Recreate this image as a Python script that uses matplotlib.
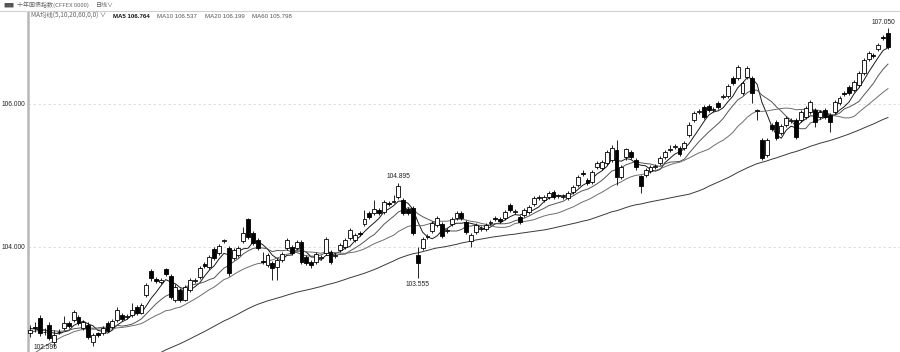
import matplotlib
matplotlib.use('Agg')
import matplotlib.pyplot as plt
import numpy as np
from matplotlib.patches import Rectangle

# ---------------- data ----------------
opens = [102.791, 102.875, 103.000, 102.805, 102.903, 102.665, 102.800, 102.861, 102.931, 102.972,
         103.014, 102.861, 102.903, 102.665, 102.791, 102.791, 102.931, 102.875, 102.972, 103.042,
         103.014, 103.042, 103.154, 103.070, 103.322, 103.658, 103.546, 103.504, 103.686, 103.588,
         103.252, 103.392, 103.252, 103.392, 103.518, 103.574, 103.756, 103.714, 103.966, 103.910,
         104.077, 103.980, 103.840, 103.882, 104.077, 104.385, 104.189, 104.091, 103.798, 103.742,
         103.770, 103.714, 103.812, 103.980, 103.994, 103.980, 104.063, 103.854, 103.784, 103.784,
         103.840, 103.910, 103.924, 103.868, 103.951, 103.994, 104.119, 104.091, 104.189, 104.315,
         104.469, 104.469, 104.511, 104.483, 104.609, 104.623, 104.693, 104.651, 104.525, 104.539,
         103.882, 103.980, 104.133, 104.217, 104.301, 104.315, 104.217, 104.315, 104.399, 104.469,
         104.343, 104.077, 104.203, 104.245, 104.245, 104.329, 104.399, 104.385, 104.399, 104.581,
         104.483, 104.413, 104.441, 104.483, 104.595, 104.679, 104.651, 104.693, 104.763, 104.707,
         104.693, 104.679, 104.763, 104.861, 105.028, 104.931, 104.903, 105.112, 105.098, 105.168,
         105.210, 105.350, 104.973, 105.252, 105.322, 105.210, 104.987, 105.001, 105.056, 105.112,
         105.168, 105.252, 105.350, 105.392, 105.378, 105.378, 105.560, 105.770, 105.882, 105.952,
         105.966, 105.910, 106.008, 106.091, 106.105, 106.357, 106.357, 106.147, 106.371, 106.357,
         105.896, 105.490, 105.280, 105.700, 105.742, 105.588, 105.700, 105.756, 105.770, 105.770,
         105.812, 105.882, 105.910, 105.812, 105.910, 105.840, 105.882, 106.008, 106.147, 106.231,
         106.189, 106.259, 106.427, 106.623, 106.679, 106.763, 106.930, 106.986]

closes = [102.833, 102.861, 102.791, 102.810, 102.721, 102.763, 102.810, 102.931, 102.889, 103.084,
          102.931, 102.945, 102.735, 102.763, 102.763, 102.861, 102.819, 102.959, 103.112, 102.986,
          103.028, 103.112, 103.070, 103.182, 103.462, 103.560, 103.518, 103.532, 103.616, 103.294,
          103.434, 103.252, 103.434, 103.532, 103.532, 103.700, 103.728, 103.854, 103.840, 104.008,
          104.091, 103.630, 103.951, 103.980, 104.189, 104.133, 104.049, 103.980, 103.784, 103.882,
          103.700, 103.812, 103.896, 104.091, 103.910, 104.063, 103.784, 103.770, 103.742, 103.896,
          103.854, 104.105, 103.784, 103.882, 104.021, 104.091, 104.231, 104.161, 104.175, 104.385,
          104.413, 104.525, 104.469, 104.623, 104.595, 104.637, 104.847, 104.469, 104.469, 104.189,
          103.770, 104.105, 104.147, 104.329, 104.399, 104.147, 104.231, 104.385, 104.469, 104.399,
          104.203, 104.161, 104.301, 104.259, 104.301, 104.343, 104.385, 104.357, 104.483, 104.511,
          104.497, 104.343, 104.511, 104.553, 104.679, 104.693, 104.693, 104.749, 104.693, 104.714,
          104.707, 104.749, 104.833, 104.973, 105.014, 104.889, 105.042, 105.168, 105.182, 105.322,
          105.378, 104.973, 105.112, 105.364, 105.252, 105.112, 104.847, 105.070, 105.112, 105.126,
          105.238, 105.322, 105.364, 105.406, 105.294, 105.448, 105.700, 105.868, 105.896, 105.812,
          105.910, 105.924, 105.952, 106.105, 106.245, 106.287, 106.511, 106.287, 106.497, 106.147,
          105.910, 105.238, 105.490, 105.644, 105.518, 105.686, 105.798, 105.770, 105.532, 105.882,
          105.938, 106.022, 105.742, 105.882, 105.812, 105.742, 106.022, 106.077, 106.133, 106.147,
          106.301, 106.427, 106.609, 106.707, 106.665, 106.819, 106.916, 106.791]

highs = [102.903, 102.945, 103.042, 102.861, 102.945, 102.833, 102.847, 103.028, 102.959, 103.112,
         103.042, 102.972, 102.945, 102.791, 102.805, 102.889, 102.959, 102.986, 103.154, 103.070,
         103.056, 103.210, 103.182, 103.210, 103.490, 103.686, 103.574, 103.560, 103.700, 103.616,
         103.476, 103.420, 103.462, 103.560, 103.560, 103.728, 103.784, 103.882, 103.994, 104.036,
         104.105, 104.008, 103.980, 104.008, 104.273, 104.399, 104.217, 104.119, 103.924, 103.910,
         103.798, 103.840, 103.924, 104.119, 104.021, 104.091, 104.091, 103.882, 103.812, 103.924,
         103.882, 104.133, 103.951, 103.910, 104.049, 104.119, 104.259, 104.189, 104.217, 104.511,
         104.497, 104.651, 104.539, 104.651, 104.637, 104.721, 104.895, 104.679, 104.553, 104.567,
         103.994, 104.133, 104.175, 104.357, 104.427, 104.343, 104.259, 104.413, 104.497, 104.497,
         104.371, 104.189, 104.329, 104.287, 104.329, 104.371, 104.427, 104.413, 104.511, 104.609,
         104.525, 104.441, 104.539, 104.581, 104.707, 104.721, 104.721, 104.777, 104.791, 104.735,
         104.735, 104.777, 104.861, 105.001, 105.070, 104.959, 105.070, 105.196, 105.210, 105.350,
         105.420, 105.490, 105.140, 105.378, 105.350, 105.238, 105.001, 105.098, 105.140, 105.154,
         105.266, 105.350, 105.420, 105.434, 105.406, 105.476, 105.742, 105.896, 105.924, 105.980,
         105.994, 105.952, 106.036, 106.133, 106.273, 106.385, 106.539, 106.315, 106.525, 106.385,
         105.924, 105.518, 105.518, 105.728, 105.770, 105.714, 105.826, 105.798, 105.798, 105.910,
         105.966, 106.049, 105.938, 105.910, 105.938, 105.868, 106.049, 106.105, 106.175, 106.259,
         106.329, 106.455, 106.637, 106.735, 106.707, 106.847, 106.958, 107.050]

lows = [102.735, 102.805, 102.749, 102.763, 102.693, 102.595, 102.777, 102.833, 102.861, 102.945,
        102.903, 102.833, 102.707, 102.609, 102.735, 102.763, 102.805, 102.847, 102.945, 102.959,
        102.986, 103.014, 103.042, 103.056, 103.294, 103.518, 103.490, 103.476, 103.588, 103.266,
        103.224, 103.224, 103.238, 103.364, 103.490, 103.546, 103.700, 103.686, 103.812, 103.882,
        104.049, 103.588, 103.812, 103.854, 104.049, 104.105, 104.021, 103.951, 103.756, 103.714,
        103.532, 103.532, 103.784, 103.951, 103.882, 103.952, 103.756, 103.742, 103.700, 103.756,
        103.812, 103.882, 103.756, 103.840, 103.924, 103.966, 104.091, 104.063, 104.147, 104.287,
        104.385, 104.441, 104.441, 104.455, 104.567, 104.609, 104.665, 104.441, 104.441, 104.161,
        103.555, 103.952, 104.105, 104.189, 104.273, 104.119, 104.189, 104.287, 104.371, 104.371,
        104.175, 103.994, 104.175, 104.217, 104.217, 104.301, 104.357, 104.329, 104.371, 104.483,
        104.455, 104.315, 104.413, 104.455, 104.567, 104.651, 104.623, 104.665, 104.665, 104.679,
        104.665, 104.651, 104.735, 104.833, 104.987, 104.861, 104.875, 105.084, 105.070, 105.140,
        105.182, 104.861, 104.945, 105.210, 105.224, 105.070, 104.749, 104.973, 105.028, 105.084,
        105.140, 105.224, 105.322, 105.364, 105.266, 105.350, 105.532, 105.742, 105.854, 105.784,
        105.882, 105.882, 105.924, 106.063, 106.077, 106.259, 106.329, 106.119, 106.343, 106.007,
        105.770, 105.210, 105.252, 105.616, 105.490, 105.560, 105.672, 105.728, 105.504, 105.742,
        105.784, 105.854, 105.672, 105.784, 105.784, 105.602, 105.854, 105.980, 106.105, 106.119,
        106.161, 106.231, 106.399, 106.595, 106.637, 106.735, 106.888, 106.763]

# closes before the visible window (needed for the moving averages)
pre_closes = [101.30, 101.25, 101.35, 101.42, 101.38, 101.30, 101.22, 101.28, 101.40, 101.48,
              101.45, 101.52, 101.47, 101.40, 101.35, 101.42, 101.50, 101.58, 101.55, 101.48,
              101.52, 101.60, 101.66, 101.58, 101.62,
              101.55, 101.50, 101.45, 101.52, 101.60, 101.58, 101.50, 101.44, 101.52, 101.63,
              101.70, 101.66, 101.72, 101.80, 101.75, 101.82, 101.90, 101.86, 101.95, 102.02, 102.10,
              102.25, 102.38, 102.46, 102.55, 102.62, 102.70, 102.78, 102.74, 102.82, 102.90,
              102.86, 102.80, 102.88]

ma_periods = [5, 10, 20, 60]
ma_colors = ['#1a1a1a', '#555555', '#6e6e6e', '#3a3a3a']
ytick_values = [104.0, 106.0]
ytick_labels = ['104.000', '106.000']
header_title = '十年国债指数(CFFEX 0000)'
header_period = '日线'
ma_param_text = 'MA均线(5,10,20,60,0,0)'
legend_values = ['106.764', '106.537', '106.199', '105.798']

# ---------------- figure ----------------
W, H = 900, 352
fig = plt.figure(figsize=(W / 100, H / 100), dpi=100)
fig.patch.set_facecolor('white')

def fx(px):
    return px / W

def fy(py):
    return 1 - py / H

ax = fig.add_axes([fx(28), 0, fx(900) - fx(28), fy(12)])
n = len(closes)
xs = np.arange(1, n + 1)
ax.set_xlim(0.59, n + 2.48)
ax.set_ylim(102.525, 107.280)

# grid lines
for v in ytick_values:
    ax.axhline(v, color='#d8d8d8', lw=0.6, ls=(0, (3, 3)), zorder=0)

# moving averages
allc = np.array(pre_closes + closes)
npre = len(pre_closes)
for p, col in zip(ma_periods, ma_colors):
    ma = np.convolve(allc, np.ones(p) / p, mode='valid')
    vals = ma[npre - p + 1:]
    ax.plot(xs, vals, color=col, lw=0.7, zorder=2)

# candles
bw = 0.8
for x, o, c, h, l in zip(xs, opens, closes, highs, lows):
    up = c >= o
    ax.plot([x, x], [l, h], color='black', lw=0.6, zorder=3, solid_capstyle='butt')
    bottom = min(o, c)
    height = max(abs(c - o), 0.006)
    ax.add_patch(Rectangle((x - bw / 2, bottom), bw, height,
                           facecolor='white' if up else 'black',
                           edgecolor='black', lw=0.6, zorder=4))

lab_font = dict(fontsize=4.8, color='#222222', family='Liberation Sans')
# extreme labels
imax = int(np.argmax(highs))
ax.text(xs[imax] + 1.6, highs[imax] + 0.04, f'{highs[imax]:.3f}', ha='right', va='bottom', **lab_font)
loc_hi = 76
ax.text(xs[loc_hi], highs[loc_hi] + 0.04, f'{highs[loc_hi]:.3f}', ha='center', va='bottom', **lab_font)
loc_lo = 80
ax.text(xs[loc_lo], lows[loc_lo] - 0.04, f'{lows[loc_lo]:.3f}', ha='center', va='top', **lab_font)
imin = int(np.argmin(lows))
ax.text(xs[imin] - 1.8, 102.545, f'{lows[imin]:.3f}', ha='center', va='bottom', **lab_font)

# axes styling
for s in ['top', 'right', 'bottom']:
    ax.spines[s].set_visible(False)
ax.spines['left'].set_color('#b8b8b8')
ax.spines['left'].set_linewidth(1.8)
ax.set_yticks(ytick_values)
ax.set_yticklabels(ytick_labels, fontsize=4.8, color='#222222', family='Liberation Sans')
ax.tick_params(axis='y', length=0, pad=2)
ax.set_xticks([])

# header
cjk = ['Noto Sans CJK SC', 'DejaVu Sans']
fig.add_artist(plt.Line2D([0, 1], [fy(10.5), fy(10.5)], color='#d0d0d0', lw=0.8))
fig.text(fx(3), fy(5), '■■', fontsize=4, color='#555555', va='center', family=cjk)
fig.text(fx(17), fy(5), header_title, fontsize=4.3, color='#666666', va='center', family=cjk)
fig.text(fx(96), fy(5), header_period + '∨', fontsize=4.3, color='#666666', va='center', family=cjk)

fig.text(fx(31), fy(16), ma_param_text + ' ∨', fontsize=4.6, color='#666666', va='center', family=cjk)
starts = [113, 157, 205, 252]
for i, (p, v) in enumerate(zip(ma_periods, legend_values)):
    bold = (i == 0)
    fig.text(fx(starts[i]), fy(16), f'MA{p} {v}', fontsize=4.4, family='Liberation Sans',
             color='#111111' if bold else '#555555',
             fontweight='bold' if bold else 'normal', va='center')

fig.savefig('out.png', dpi=100, facecolor='white')
